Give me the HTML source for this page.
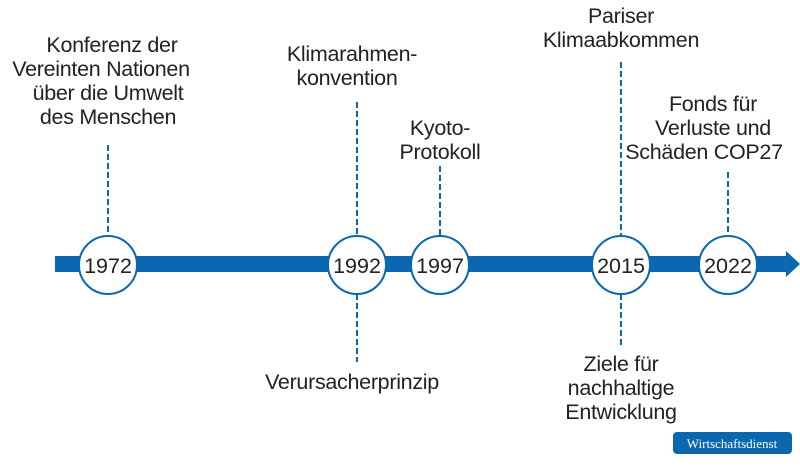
<!DOCTYPE html>
<html><head><meta charset="utf-8"><style>
body{margin:0;background:#fff;width:800px;height:464px;overflow:hidden;font-family:"Liberation Sans",sans-serif}
</style></head><body>
<svg width="800" height="464" xmlns="http://www.w3.org/2000/svg">
<g stroke="#0a67b0" stroke-width="2" stroke-dasharray="6,3">
<line x1="108" y1="145" x2="108" y2="236"/>
<line x1="357" y1="102" x2="357" y2="236"/>
<line x1="357" y1="294" x2="357" y2="362"/>
<line x1="440" y1="166" x2="440" y2="236"/>
<line x1="621" y1="62" x2="621" y2="236"/>
<line x1="621" y1="294" x2="621" y2="345"/>
<line x1="728" y1="172" x2="728" y2="236"/>
</g>
<rect x="55" y="256" width="735" height="16" fill="#0a67b0"/>
<polygon points="786,251 800,264 786,277" fill="#0a67b0"/>
<g fill="#fff" stroke="#0a67b0" stroke-width="2">
<circle cx="108" cy="265" r="29"/><circle cx="357" cy="265" r="29"/><circle cx="440" cy="265" r="29"/><circle cx="621" cy="265" r="29"/><circle cx="728" cy="265" r="29"/>
</g>
<g font-size="21.5" fill="#222" text-anchor="middle">
<text x="108" y="273">1972</text><text x="357" y="273">1992</text><text x="440" y="273">1997</text><text x="621" y="273">2015</text><text x="728" y="273">2022</text>
</g>
<g font-size="21.5" fill="#222" text-anchor="middle" letter-spacing="-0.3">
<text x="112" y="52">Konferenz der</text><text x="101" y="76">Vereinten Nationen</text><text x="108" y="100">über die Umwelt</text><text x="108" y="124">des Menschen</text>
<text x="352" y="61">Klimarahmen-</text><text x="347" y="85">konvention</text>
<text x="440" y="135">Kyoto-</text><text x="440" y="159">Protokoll</text>
<text x="621" y="23">Pariser</text><text x="621" y="47">Klimaabkommen</text>
<text x="713" y="111">Fonds für</text><text x="713" y="135">Verluste und</text><text x="704" y="159">Schäden COP27</text>
<text x="352" y="389">Verursacherprinzip</text>
<text x="621" y="371">Ziele für</text><text x="621" y="395">nachhaltige</text><text x="621" y="419">Entwicklung</text>
</g>
<rect x="673" y="432" width="119" height="22" rx="4" fill="#0a67b0"/>
<text x="732" y="448" text-anchor="middle" font-family="Liberation Serif,serif" font-size="13" fill="#fff">Wirtschaftsdienst</text>
</svg>
</body></html>
